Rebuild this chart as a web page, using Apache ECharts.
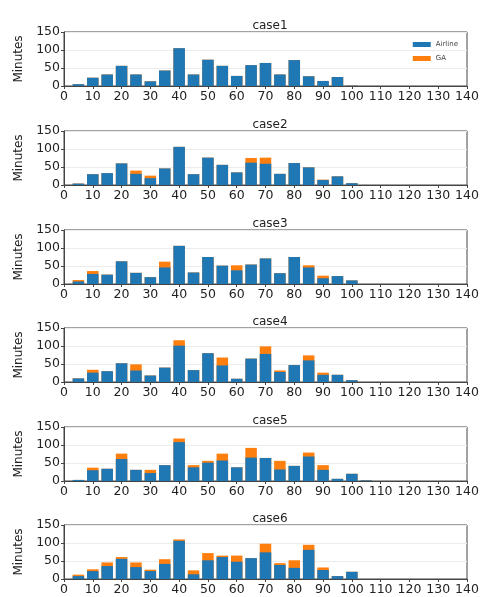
<!DOCTYPE html>
<html><head><meta charset="utf-8">
<script src="https://cdn.jsdelivr.net/npm/echarts@6/dist/echarts.min.js"></script>
<style>html,body{margin:0;padding:0;background:#fff}#c{width:483px;height:597px}</style>
</head><body><div id="c"></div>
<script>
const xPositions = [5,10,15,20,25,30,35,40,45,50,55,60,65,70,75,80,85,90,95,100,105];
const caseNames = ['case1','case2','case3','case4','case5','case6'];
const xTicks = [0,10,20,30,40,50,60,70,80,90,100,110,120,130,140];
const yTicks = [0,50,100,150];

const case1Airline = [5,23,32,56,32,13,43,105,32,73,56,28,58,64,32,72,27,14,25,1,0];
const case1GA      = [0,0,0,0,0,0,0,0,0,0,0,0,0,0,0,0,0,0,0,0,0];
const case2Airline = [4,30,33,60,31,19,46,106,30,76,56,35,62,59,31,61,49,14,24,5,0];
const case2GA      = [0,0,0,0,9,7,0,0,0,0,0,0,13,17,0,0,0,1,0,0,0];
const case3Airline = [7,28,26,63,31,19,46,106,32,75,51,38,54,71,30,75,46,16,22,10,0];
const case3GA      = [4,8,0,0,0,0,16,0,0,0,0,14,0,0,0,0,6,7,0,0,0];
const case4Airline = [10,26,30,52,32,18,40,101,33,80,46,9,65,78,28,47,60,20,20,5,0];
const case4GA      = [0,8,0,0,17,0,0,15,0,0,22,0,0,21,4,0,14,6,0,0,0];
const case5Airline = [3,30,34,61,31,22,44,108,38,51,57,38,65,64,32,42,68,31,6,20,2];
const case5GA      = [0,7,0,15,0,9,0,10,6,5,19,0,27,0,24,0,11,13,0,0,0];
const case6Airline = [8,22,36,56,33,22,42,106,13,52,61,48,58,74,39,31,81,25,8,20,0];
const case6GA      = [4,5,10,5,13,4,13,4,11,20,4,17,0,24,5,21,14,7,0,0,0];

const airline = [case1Airline,case2Airline,case3Airline,case4Airline,case5Airline,case6Airline];
const ga = [case1GA,case2GA,case3GA,case4GA,case5GA,case6GA];

const FONT = 'DejaVu Sans';
const gridTops = [32,131,230,328,427,525];
const gridH = 54;

const grids=[], xAxes=[], yAxes=[], titles=[], series=[];
caseNames.forEach((name,i)=>{
  grids.push({left:64,right:16,top:gridTops[i],height:gridH,show:true,borderColor:'#444',borderWidth:1,backgroundColor:'#fff'});
  titles.push({text:name,left:265,textAlign:'center',top:gridTops[i]-17,
    textStyle:{fontFamily:FONT,fontSize:12,fontWeight:'normal',color:'#222'}});
  xAxes.push({type:'value',gridIndex:i,min:xTicks[0],max:xTicks[xTicks.length-1],interval:10,
    axisLine:{show:true,lineStyle:{color:'#444'}},
    axisTick:{show:true,length:3,lineStyle:{color:'#444'}},
    axisLabel:{fontFamily:FONT,fontSize:12.5,color:'#222',margin:4},
    splitLine:{show:false}});
  yAxes.push({type:'value',gridIndex:i,min:yTicks[0],max:yTicks[yTicks.length-1],interval:50,
    name:'Minutes',nameLocation:'middle',nameGap:33,nameRotate:90,
    nameTextStyle:{fontFamily:FONT,fontSize:12,color:'#222'},
    axisLine:{show:true,lineStyle:{color:'#444'}},
    axisTick:{show:true,length:3,lineStyle:{color:'#444'}},
    axisLabel:{fontFamily:FONT,fontSize:12.5,color:'#222',margin:4},
    splitLine:{show:true,lineStyle:{color:'#ececec',width:1}}});
  // GA stacked on top of Airline: draw the stack total in orange behind the airline bar
  series.push({name:'GA',type:'bar',xAxisIndex:i,yAxisIndex:i,barWidth:'80%',barGap:'-100%',z:2,
    itemStyle:{color:'#ff7f0e'},data:xPositions.map((x,k)=>[x,airline[i][k]+ga[i][k]])});
  series.push({name:'Airline',type:'bar',xAxisIndex:i,yAxisIndex:i,barWidth:'80%',barGap:'-100%',z:3,
    itemStyle:{color:'#1f77b4'},data:xPositions.map((x,k)=>[x,airline[i][k]])});
});

const chart = echarts.init(document.getElementById('c'),null,{renderer:'canvas'});
chart.setOption({
  animation:false,
  title:titles,
  legend:{data:['Airline','GA'],orient:'vertical',right:20,top:36,itemWidth:18,itemHeight:5,itemGap:7,
    textStyle:{fontFamily:FONT,fontSize:7,color:'#444'},icon:'rect'},
  grid:grids, xAxis:xAxes, yAxis:yAxes, series:series
});
</script></body></html>
